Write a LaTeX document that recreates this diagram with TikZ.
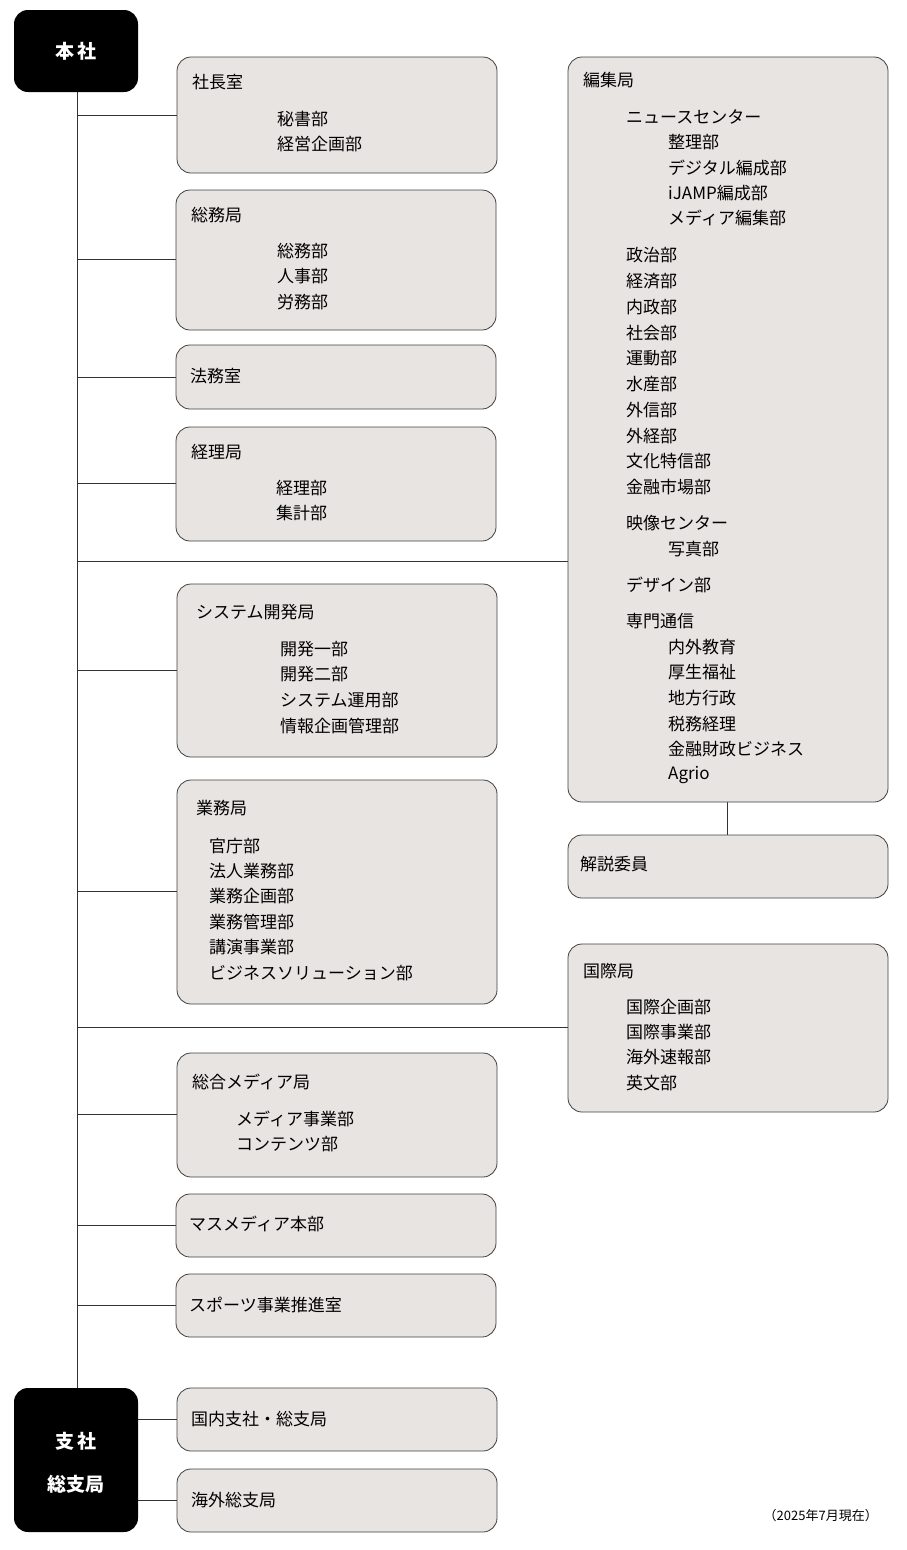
\documentclass[tikz,border=0pt]{standalone}
\usepackage{fontspec}
\setmainfont{Noto Sans CJK JP}
\begin{document}
\begin{tikzpicture}[x=1pt,y=-1pt,
  box/.style={draw=black!75,line width=0.8pt,fill=boxfill,rounded corners=14pt},
  hq/.style={fill=black,rounded corners=14pt},
  tx/.style={anchor=west,inner sep=0pt,font=\fontsize{17}{20}\selectfont},
  ln/.style={line width=0.8pt,black!80}]
\definecolor{boxfill}{HTML}{E8E4E2}
\useasboundingbox (0,0) rectangle (907,1550);
% trunk
\coordinate (t0) at (77,92); \coordinate (t1) at (77,1388);
\draw[ln] (t0)--(t1);
\foreach \y/\n in {115/a,259/b,377/c,483/d,670/f,891/g,1114/h,1225/i,1305/j}{
  \coordinate (c\n) at (77,\y); \coordinate (e\n) at (177,\y); \draw[ln] (c\n)--(e\n);}
\coordinate (ce) at (77,561); \coordinate (ee) at (568,561); \draw[ln] (ce)--(ee);
\coordinate (ck) at (77,1027); \coordinate (ek) at (568,1027); \draw[ln] (ck)--(ek);
\coordinate (cl) at (138,1419); \coordinate (el) at (177,1419); \draw[ln] (cl)--(el);
\coordinate (cm) at (138,1500); \coordinate (em) at (177,1500); \draw[ln] (cm)--(em);
\coordinate (v0) at (727,802); \coordinate (v1) at (727,835); \draw[ln] (v0)--(v1);
% black boxes
\path[hq] (14,10) rectangle (138,92) node[midway,text=white,font=\fontsize{19}{22}\selectfont\bfseries] (honsha) {本\,社};
\path[hq] (14,1388) rectangle (138,1532);
\node[text=white,font=\fontsize{19}{22}\selectfont\bfseries] (shisha1) at (76,1441) {支\,社};
\node[text=white,font=\fontsize{19}{22}\selectfont\bfseries] (shisha2) at (76,1484) {総支局};
% boxes
\draw[box] (177,57) rectangle (497,173);
\draw[box] (176,190) rectangle (496,330);
\draw[box] (176,345) rectangle (496,409);
\draw[box] (176,427) rectangle (496,541);
\draw[box] (177,584) rectangle (497,757);
\draw[box] (177,780) rectangle (497,1004);
\draw[box] (177,1053) rectangle (497,1177);
\draw[box] (176,1194) rectangle (496,1257);
\draw[box] (176,1274) rectangle (496,1337);
\draw[box] (177,1388) rectangle (497,1451);
\draw[box] (177,1469) rectangle (497,1532);
\draw[box] (568,57) rectangle (888,802);
\draw[box] (568,835) rectangle (888,898);
\draw[box] (568,944) rectangle (888,1112);
% texts
\foreach \x/\y/\t [count=\i] in {
 192/82/社長室, 277/119/秘書部, 277/144/経営企画部,
 191/215/総務局, 277/251/総務部, 277/276/人事部, 277/302/労務部,
 190/376/法務室,
 191/452/経理局, 276/488/経理部, 276/513/集計部,
 196/612/システム開発局, 280/649/開発一部, 280/674/開発二部, 280/700/システム運用部, 280/726/情報企画管理部,
 196/808/業務局, 209/846/官庁部, 209/871/法人業務部, 209/896/業務企画部, 209/922/業務管理部, 209/947/講演事業部, 209/973/ビジネスソリューション部,
 192/1082/総合メディア局, 236/1119/メディア事業部, 236/1144/コンテンツ部,
 189/1224/マスメディア本部,
 189/1305/スポーツ事業推進室,
 191/1419/国内支社・総支局,
 191/1500/海外総支局,
 583/80/編集局, 626/117/ニュースセンター, 668/142/整理部, 668/168/デジタル編成部, 668/193/iJAMP編成部, 668/218/メディア編集部,
 626/255/政治部, 626/281/経済部, 626/307/内政部, 626/333/社会部, 626/358/運動部, 626/384/水産部, 626/410/外信部, 626/436/外経部, 626/461/文化特信部, 626/487/金融市場部,
 626/523/映像センター, 668/549/写真部, 626/585/デザイン部,
 626/621/専門通信, 668/647/内外教育, 668/672/厚生福祉, 668/698/地方行政, 668/724/税務経理, 668/749/金融財政ビジネス, 668/775/Agrio,
 580/864/解説委員,
 583/971/国際局, 626/1007/国際企画部, 626/1032/国際事業部, 626/1057/海外速報部, 626/1083/英文部}
 \node[tx] (t\i) at (\x,\y) {\t};
\node[anchor=east,inner sep=0pt,font=\fontsize{13}{15}\selectfont] (note) at (878,1516) {（2025年7月現在）};
\end{tikzpicture}
\end{document}
